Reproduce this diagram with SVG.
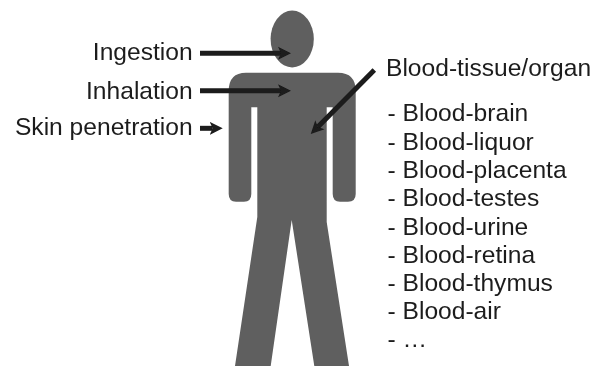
<svg xmlns="http://www.w3.org/2000/svg" width="595" height="366" viewBox="0 0 595 366">
<style>
text{font-family:"Liberation Sans",Arial,sans-serif;font-size:24.6px;fill:#1c1c1c}
.r{text-anchor:end}
.fig{fill:#5f5f5f}
.c{fill:none;stroke:#1a1a1a;stroke-width:5;marker-end:url(#a)}
</style>
<defs>
<marker id="a" markerUnits="userSpaceOnUse" markerWidth="14" markerHeight="14" refX="3" refY="7" orient="auto" viewBox="0 0 14 14"><path d="M0 0.5L13 7L0 13.5L3 7Z" fill="#1a1a1a"/></marker>
<filter id="b" x="-5%" y="-5%" width="110%" height="110%"><feGaussianBlur stdDeviation="0.45"/></filter>
</defs>
<rect width="595" height="366" fill="#fff"/>
<g filter="url(#b)">
<g id="person">
<ellipse class="fig" cx="292.2" cy="39" rx="21.6" ry="28.4"/>
<path class="fig" d="M246 72.7H338Q355.7 72.7 355.7 91V194Q355.7 201.7 348 201.7H340Q332.7 201.7 332.7 194V107.3H326.7V222L349 366H314.3L291.7 220L270.7 366H235L257.3 217V107.3H251.3V194Q251.3 201.7 244 201.7H236Q228.7 201.7 228.7 194V91Q228.7 72.7 246 72.7Z"/>
</g>
<g id="connectors">
<line class="c" x1="200" y1="53.3" x2="281" y2="53.3"/>
<line class="c" x1="200" y1="90.7" x2="281" y2="90.7"/>
<line class="c" x1="200" y1="128.3" x2="212.7" y2="128.3"/>
<line class="c" x1="374.3" y1="70" x2="317.8" y2="126.9"/>
</g>
<g id="route-labels">
<text class="r" x="192.7" y="60">Ingestion</text>
<text class="r" x="192.7" y="99">Inhalation</text>
<text class="r" x="192.7" y="135">Skin penetration</text>
</g>
<g id="blood-barriers">
<text x="386" y="76">Blood-tissue/organ</text>
<text x="387.5" y="121">- Blood-brain</text>
<text x="387.5" y="149.5">- Blood-liquor</text>
<text x="387.5" y="177.5">- Blood-placenta</text>
<text x="387.5" y="206">- Blood-testes</text>
<text x="387.5" y="234.5">- Blood-urine</text>
<text x="387.5" y="262.5">- Blood-retina</text>
<text x="387.5" y="290.5">- Blood-thymus</text>
<text x="387.5" y="318.5">- Blood-air</text>
<text x="387.5" y="346.5">- …</text>
</g>
</g>
</svg>
